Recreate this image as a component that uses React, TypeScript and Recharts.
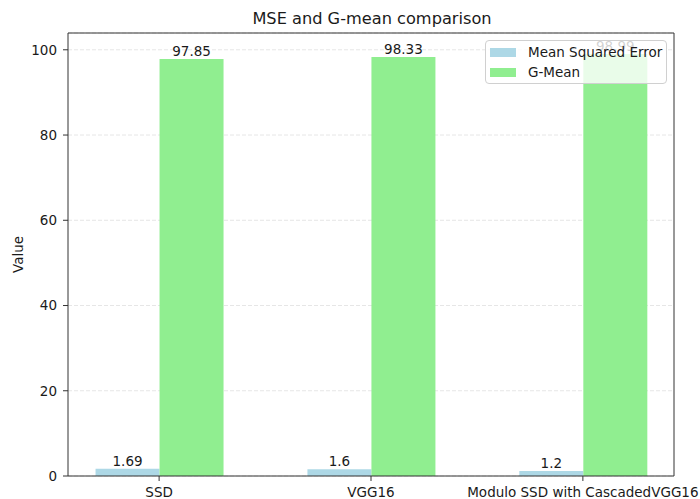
import React from "react";
import {
  BarChart,
  Bar,
  XAxis,
  YAxis,
  CartesianGrid,
  Legend,
  LabelList,
  ReferenceLine,
} from "recharts";

const categories = ["SSD", "VGG16", "Modulo SSD with CascadedVGG16"];
const mseValues = [1.69, 1.6, 1.2];
const gmeanValues = [97.85, 98.33, 98.99];
const yTicks = [0, 20, 40, 60, 80, 100];
const seriesNames = ["Mean Squared Error", "G-Mean"];
const seriesColors = ["#add8e6", "#90ee90"];

const data = categories.map((name, i) => ({
  x: i,
  name,
  mse: mseValues[i],
  gmean: gmeanValues[i],
}));

// matplotlib-like margins: bars span -0.3..2.3, plus 5% each side
const X_DOMAIN: [number, number] = [-0.43, 2.43];
const Y_MAX = Math.max(...gmeanValues) * 1.05;

const FONT = "'DejaVu Sans', sans-serif";
const TEXT = "#1a1a1a";
const AXIS = "#333";
const TICK_FONT = 13.5;

function LegendBox() {
  return (
    <div
      style={{
        boxSizing: "border-box",
        width: 182,
        height: 44,
        border: "1px solid #d0d0d0",
        borderRadius: 4,
        background: "rgba(255,255,255,0.8)",
        paddingTop: 1,
        fontFamily: FONT,
        fontSize: TICK_FONT,
        color: TEXT,
      }}
    >
      {seriesNames.map((n, i) => (
        <div key={n} style={{ display: "flex", alignItems: "center", height: 20 }}>
          <span
            style={{
              display: "inline-block",
              width: 26,
              height: 9,
              marginLeft: 4,
              marginRight: 12,
              background: seriesColors[i],
            }}
          />
          <span>{n}</span>
        </div>
      ))}
    </div>
  );
}

export default function App() {
  return (
    <div
      style={{
        position: "absolute",
        left: 0,
        top: 0,
        width: 700,
        height: 499,
        background: "#fff",
        fontFamily: FONT,
      }}
    >
      <div
        style={{
          position: "absolute",
          left: 172,
          top: 11.3,
          width: 400,
          textAlign: "center",
          fontSize: 16.2,
          lineHeight: "16.2px",
          color: TEXT,
        }}
      >
        MSE and G-mean comparison
      </div>
      <BarChart
        width={700}
        height={499}
        data={data}
        margin={{ top: 33, right: 26, bottom: 0, left: 0 }}
        barCategoryGap="20%"
        barGap={0}
        style={{ fontFamily: FONT }}
      >
        <CartesianGrid vertical={false} stroke="#e6e6e6" strokeDasharray="4 2" />
        <XAxis
          type="number"
          dataKey="x"
          domain={X_DOMAIN}
          ticks={[0, 1, 2]}
          tickFormatter={(v: number) => categories[v]}
          interval={0}
          height={23}
          tickSize={5}
          tickMargin={6}
          stroke={AXIS}
          tick={{ fill: TEXT, fontSize: TICK_FONT }}
        />
        <YAxis
          type="number"
          domain={[0, Y_MAX]}
          ticks={yTicks}
          width={68}
          tickSize={5}
          tickMargin={6}
          stroke={AXIS}
          tick={{ fill: TEXT, fontSize: TICK_FONT }}
          label={{
            value: "Value",
            angle: -90,
            position: "center",
            dx: -16,
            fill: TEXT,
            fontSize: TICK_FONT,
          }}
        />
        <ReferenceLine y={Y_MAX} stroke={AXIS} />
        <ReferenceLine x={X_DOMAIN[1]} stroke={AXIS} />
        <Legend
          layout="horizontal"
          verticalAlign="middle"
          align="center"
          wrapperStyle={{ top: 40, left: 485, width: 182, height: 44 }}
          content={() => <LegendBox />}
        />
        <Bar
          dataKey="mse"
          name={seriesNames[0]}
          fill={seriesColors[0]}
          isAnimationActive={false}
        >
          <LabelList
            dataKey="mse"
            position="top"
            offset={3}
            formatter={(v: number) => String(v)}
            style={{ fill: TEXT, fontSize: TICK_FONT }}
          />
        </Bar>
        <Bar
          dataKey="gmean"
          name={seriesNames[1]}
          fill={seriesColors[1]}
          isAnimationActive={false}
        >
          <LabelList
            dataKey="gmean"
            position="top"
            offset={3}
            formatter={(v: number) => String(v)}
            style={{ fill: TEXT, fontSize: TICK_FONT }}
          />
        </Bar>
      </BarChart>
    </div>
  );
}
